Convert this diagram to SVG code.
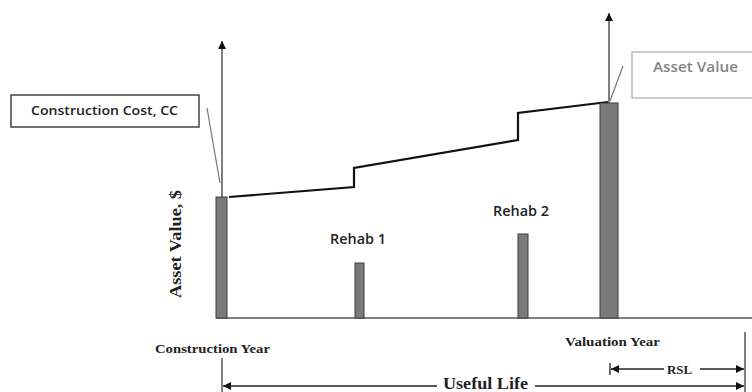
<svg xmlns="http://www.w3.org/2000/svg" width="752" height="392" viewBox="0 0 752 392">
  <style>
    .axis { stroke: #555; stroke-width: 1.5; fill: none; }
    .leader { stroke: #777; stroke-width: 1.2; fill: none; }
    .bar { fill: #7a7a7a; stroke: #3c3c3c; stroke-width: 1; }
    .value { stroke: #111; stroke-width: 2.2; fill: none; stroke-linejoin: miter; }
    .dim { stroke: #222; stroke-width: 1.3; fill: none; }
    .serif { font-family: "Liberation Serif", "Times New Roman", serif; font-weight: bold; fill: #222; }
    .sans { font-family: "Open Sans", "Liberation Sans", Arial, sans-serif; font-weight: 600; fill: #222; }
  </style>
  <defs>
    <marker id="arr" viewBox="0 0 10 10" refX="10" refY="5" markerWidth="9" markerHeight="8" markerUnits="userSpaceOnUse" orient="auto">
      <path d="M0,0 L10,5 L0,10 z" fill="#111"/>
    </marker>
  </defs>
  <rect x="0" y="0" width="752" height="392" fill="#fff"/>

  <g id="connectors">
    <line class="axis" x1="222" y1="318" x2="222" y2="41" marker-end="url(#arr)"/>
    <line class="axis" x1="609" y1="103" x2="609" y2="13" marker-end="url(#arr)"/>
    <line class="axis" x1="216" y1="318" x2="752" y2="318" stroke-width="2"/>
    <line class="leader" x1="207" y1="108" x2="220" y2="183"/>
    <line class="leader" x1="623" y1="66" x2="610" y2="101"/>
    <polyline class="value" points="229,197 354,187 354,168 518,140 518,113 608,102"/>
    <line class="axis" x1="222" y1="358" x2="222" y2="392"/>
    <line class="axis" x1="745" y1="332" x2="745" y2="392"/>
    <line class="dim" x1="437" y1="386" x2="223" y2="386" marker-end="url(#arr)"/>
    <line class="dim" x1="535" y1="386" x2="744" y2="386" marker-end="url(#arr)"/>
    <line class="dim" x1="610" y1="363" x2="610" y2="375"/>
    <line class="dim" x1="664" y1="369" x2="611" y2="369" marker-end="url(#arr)"/>
    <line class="dim" x1="700" y1="369" x2="744" y2="369" marker-end="url(#arr)"/>
  </g>

  <g id="bar-construction"><rect class="bar" x="216" y="197" width="11" height="121"/></g>
  <g id="bar-rehab1"><rect class="bar" x="355" y="263" width="9" height="55"/></g>
  <g id="bar-rehab2"><rect class="bar" x="518" y="234" width="10" height="84"/></g>
  <g id="bar-valuation"><rect class="bar" x="600" y="103" width="18" height="215"/></g>

  <g id="box-cc">
    <rect x="11" y="95" width="188" height="32" fill="#fff" stroke="#444" stroke-width="1.5"/>
    <text class="sans" x="31" y="115" font-size="13" textLength="147" lengthAdjust="spacingAndGlyphs">Construction Cost, CC</text>
  </g>
  <g id="box-av">
    <rect x="632" y="52" width="124" height="46" fill="#fff" stroke="#aaa" stroke-width="1.2"/>
    <text class="sans" x="653" y="72" font-size="14.5" style="fill:#858585" textLength="85" lengthAdjust="spacingAndGlyphs">Asset Value</text>
  </g>

  <g id="label-rehab1"><text class="sans" x="330" y="244" font-size="14" textLength="56" lengthAdjust="spacingAndGlyphs">Rehab 1</text></g>
  <g id="label-rehab2"><text class="sans" x="493" y="216" font-size="14" textLength="56" lengthAdjust="spacingAndGlyphs">Rehab 2</text></g>

  <g id="label-yaxis"><text class="serif" transform="translate(181,298) rotate(-90)" font-size="17" textLength="108" lengthAdjust="spacingAndGlyphs">Asset Value, $</text></g>
  <g id="label-cy"><text class="serif" x="155" y="353" font-size="13" textLength="115" lengthAdjust="spacingAndGlyphs">Construction Year</text></g>
  <g id="label-vy"><text class="serif" x="565" y="346" font-size="13" textLength="95" lengthAdjust="spacingAndGlyphs">Valuation Year</text></g>
  <g id="label-rsl"><text class="serif" x="667" y="374" font-size="13" textLength="25" lengthAdjust="spacingAndGlyphs">RSL</text></g>
  <g id="label-ul"><text class="serif" x="443" y="389" font-size="16" textLength="85" lengthAdjust="spacingAndGlyphs">Useful Life</text></g>
</svg>
